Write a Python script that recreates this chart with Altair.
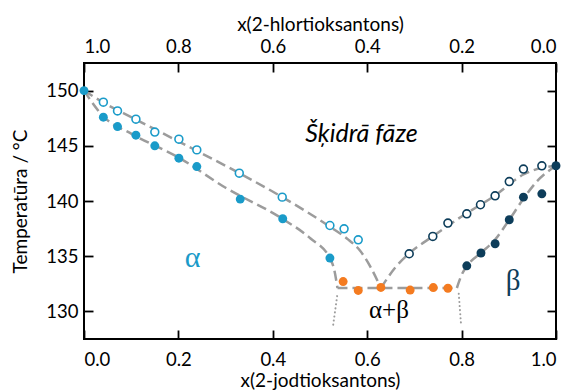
import altair as alt
import pandas as pd

# ---------------- data ----------------
x_ticks = [0.0, 0.2, 0.4, 0.6, 0.8, 1.0]
y_ticks = [130, 135, 140, 145, 150]

# alpha side: liquidus (open) and solidus (filled) measurements
a_liq_x = [0.041, 0.071, 0.110, 0.150, 0.201, 0.239, 0.329, 0.420, 0.521, 0.551, 0.581]
a_liq_T = [148.95, 148.16, 147.41, 146.24, 145.6, 144.63, 142.52, 140.35, 137.78, 137.48, 136.48]
a_sol_x = [0.0, 0.041, 0.071, 0.110, 0.150, 0.201, 0.239, 0.331, 0.421, 0.521]
a_sol_T = [150.0, 147.59, 146.74, 145.96, 145.0, 143.88, 143.12, 140.17, 138.39, 134.83]
# eutectic points
eut_x = [0.549, 0.581, 0.629, 0.691, 0.740, 0.771]
eut_T = [132.7, 131.9, 132.17, 131.93, 132.16, 132.1]
# beta side
b_liq_x = [0.689, 0.739, 0.771, 0.811, 0.840, 0.871, 0.901, 0.931, 0.970]
b_liq_T = [135.22, 136.79, 138.0, 138.84, 139.66, 140.47, 141.76, 142.89, 143.19]
b_sol_x = [0.811, 0.841, 0.871, 0.901, 0.931, 0.970, 1.0]
b_sol_T = [134.13, 135.29, 136.13, 138.3, 140.35, 140.65, 143.19]

# guide curves (dashed)
c_aliq_x = [0.0, 0.05, 0.1, 0.2, 0.33, 0.42, 0.52, 0.56, 0.585, 0.606, 0.629]
c_aliq_T = [150.0, 148.7, 147.6, 145.4, 142.5, 140.35, 137.7, 136.5, 135.5, 134.1, 132.12]
c_asol_x = [0.0, 0.04, 0.1, 0.2, 0.3, 0.42, 0.48, 0.521, 0.53, 0.537]
c_asol_T = [150.0, 147.7, 146.1, 143.95, 141.2, 138.4, 136.6, 134.8, 133.8, 132.12]
c_eut_x = [0.537, 0.790]
c_eut_T = [132.12, 132.12]
c_bliq_x = [0.629, 0.66, 0.689, 0.739, 0.80, 0.871, 0.931, 0.97, 1.0]
c_bliq_T = [132.12, 134.0, 135.25, 136.8, 138.6, 140.5, 142.4, 143.0, 143.19]
c_bsol_x = [0.790, 0.80, 0.811, 0.841, 0.871, 0.901, 0.931, 0.96, 1.0]
c_bsol_T = [132.12, 133.3, 134.1, 135.3, 136.5, 138.3, 140.2, 141.8, 143.19]
# dotted solvus lines
d_left_x = [0.537, 0.528]
d_left_T = [131.6, 128.8]
d_right_x = [0.794, 0.799]
d_right_T = [131.6, 128.7]

# text labels
lbl_text = ["Šķidrā fāze", "α", "β", "α+β"]
lbl_x = [0.588, 0.23, 0.909, 0.646]
lbl_T = [145.38, 134.05, 131.9, 129.4]

# ---------------- styling ----------------
LIGHT = "#1a9bc9"
DARK = "#0d3d5a"
ORANGE = "#f47b20"
GRAY = "#9c9c9c"
FONT = "Lato"
SERIF = "Liberation Serif"

xs = alt.Scale(domain=[0, 1], nice=False, zero=False)
ys = alt.Scale(domain=[127.5, 152.5], nice=False, zero=False)


def curve_df(xv, tv, name):
    return pd.DataFrame({"x": xv, "T": tv, "g": name})


dashed_df = pd.concat([
    curve_df(c_aliq_x, c_aliq_T, "aliq"),
    curve_df(c_asol_x, c_asol_T, "asol"),
    curve_df(c_eut_x, c_eut_T, "eut"),
    curve_df(c_bliq_x, c_bliq_T, "bliq"),
    curve_df(c_bsol_x, c_bsol_T, "bsol"),
])
dotted_df = pd.concat([
    curve_df(d_left_x, d_left_T, "l"),
    curve_df(d_right_x, d_right_T, "r"),
])

common_axis = dict(
    domain=False, grid=False, ticks=True, tickColor="black", tickWidth=1.8,
    tickSize=9, offset=-9, labelFont=FONT, labelFontSize=18.5, labelColor="black",
    titleFont=FONT, titleFontSize=19, titleColor="black", titleFontWeight="normal",
)

x_bottom = alt.Axis(orient="bottom", values=x_ticks, format=".1f",
                    title="x(2-jodtioksantons)", labelPadding=11, titlePadding=3,
                    **common_axis)
x_top = alt.Axis(orient="top", values=x_ticks,
                 labelExpr="format(1 - datum.value, '.1f')",
                 title="x(2-hlortioksantons)", labelPadding=7, titlePadding=3,
                 **common_axis)
y_left = alt.Axis(orient="left", values=y_ticks, title="Temperatūra / °C",
                  labelPadding=6, titlePadding=15, **common_axis)
y_right = alt.Axis(orient="right", values=y_ticks, labels=False, title=None,
                   **common_axis)

dashed = alt.Chart(dashed_df).mark_line(
    color=GRAY, strokeWidth=2.5, strokeDash=[10, 5], interpolate="monotone"
).encode(
    x=alt.X("x:Q", scale=xs, axis=x_bottom),
    y=alt.Y("T:Q", scale=ys, axis=y_left),
    detail="g:N",
)

dotted = alt.Chart(dotted_df).mark_line(
    color=GRAY, strokeWidth=2.0, strokeDash=[0.1, 4], strokeCap="round"
).encode(
    x=alt.X("x:Q", scale=xs, axis=x_top),
    y=alt.Y("T:Q", scale=ys, axis=y_right),
    detail="g:N",
)


def filled(xv, tv, color):
    return alt.Chart(pd.DataFrame({"x": xv, "T": tv})).mark_circle(
        size=80, color=color, opacity=1
    ).encode(
        x=alt.X("x:Q", scale=xs, axis=None),
        y=alt.Y("T:Q", scale=ys, axis=None),
    )


def hollow(xv, tv, color):
    return alt.Chart(pd.DataFrame({"x": xv, "T": tv})).mark_point(
        shape="circle", size=62, filled=True, fill="white", stroke=color,
        strokeWidth=1.6, opacity=1
    ).encode(
        x=alt.X("x:Q", scale=xs, axis=None),
        y=alt.Y("T:Q", scale=ys, axis=None),
    )


def label(i, **kw):
    df = pd.DataFrame({"x": [lbl_x[i]], "T": [lbl_T[i]], "t": [lbl_text[i]]})
    return alt.Chart(df).mark_text(**kw).encode(
        x=alt.X("x:Q", scale=xs, axis=None),
        y=alt.Y("T:Q", scale=ys, axis=None),
        text="t:N",
    )


texts = [
    label(0, font=FONT, fontSize=25, fontStyle="italic", color="black",
          align="center", baseline="alphabetic"),
    label(1, font=SERIF, fontSize=30, color=LIGHT, align="center", baseline="alphabetic"),
    label(2, font=SERIF, fontSize=29, color=DARK, align="center", baseline="alphabetic"),
    label(3, font=SERIF, fontSize=25, color="black", align="center", baseline="alphabetic"),
]

chart = alt.layer(
    dashed, dotted,
    hollow(a_liq_x, a_liq_T, LIGHT),
    filled(a_sol_x, a_sol_T, LIGHT),
    filled(eut_x, eut_T, ORANGE),
    hollow(b_liq_x, b_liq_T, DARK),
    filled(b_sol_x, b_sol_T, DARK),
    *texts,
).resolve_axis(
    x="independent", y="independent"
).properties(
    width=472, height=276,
    autosize=alt.AutoSizeParams(type="none"),
    padding={"left": 84, "top": 63, "right": 17, "bottom": 52},
    background="white",
).configure_view(
    stroke="black", strokeWidth=2
)

chart.save("out.html", embed_options={"renderer": "svg", "actions": False})
